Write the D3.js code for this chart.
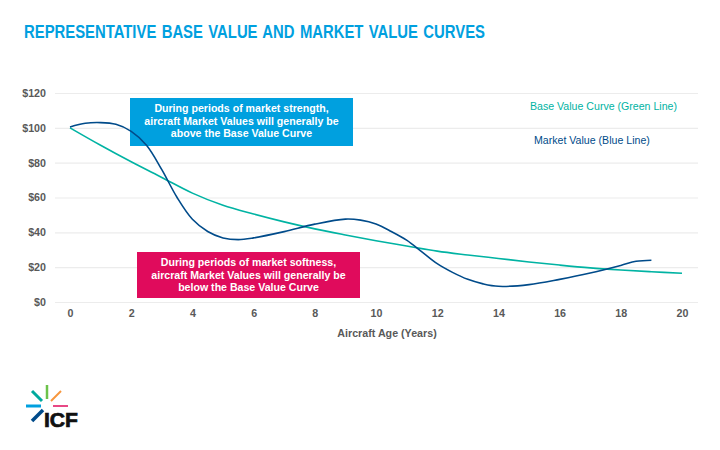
<!DOCTYPE html>
<html>
<head>
<meta charset="utf-8">
<script src="https://cdn.jsdelivr.net/npm/d3@7"></script>
<style>
    html, body { margin: 0; padding: 0; background: #fff; }
    svg { display: block; font-family: "Liberation Sans", Arial, sans-serif; }
</style>
</head>
<body>
<svg id="chart" width="720" height="450"></svg>
<script>
const baseAges = [0, 1, 2, 3, 4, 5, 6, 7, 8, 9, 10, 11, 12, 13, 14, 15, 16, 17, 18, 19, 20];
const baseValues = [100, 90, 80.5, 71.5, 62.5, 55.5, 50.5, 46, 42, 38.5, 35.2, 32.2, 29.2, 27, 25, 23, 21.2, 19.6, 18.4, 17.4, 16.5];

const marketAges = [0, 0.5, 1, 1.5, 2, 2.5, 3, 3.5, 4, 4.5, 5, 5.5, 6, 7, 8, 9, 9.5, 10, 10.5, 11, 11.5, 12, 12.5, 13, 13.5, 14, 15, 16, 17, 18, 18.5, 19];
const marketValues = [100.5, 102.6, 103, 102, 98, 90, 76, 60, 47.5, 40.5, 36.8, 35.8, 36.8, 40.4, 44.7, 47.6, 47, 44.8, 40.5, 35.5, 28.8, 22, 17, 13, 10.4, 9, 10, 13, 16.6, 21, 23.4, 24];

const xTicks = [0, 2, 4, 6, 8, 10, 12, 14, 16, 18, 20];
const yTicks = [0, 20, 40, 60, 80, 100, 120];

const titleText = 'REPRESENTATIVE BASE VALUE AND MARKET VALUE CURVES';
const xLabel = 'Aircraft Age (Years)';
const strengthLines = ['During periods of market strength,', 'aircraft Market Values will generally be', 'above the Base Value Curve'];
const softnessLines = ['During periods of market softness,', 'aircraft Market Values will generally be', 'below the Base Value Curve'];

const teal = '#00b3a3';
const navy = '#004b8a';
const grey = '#595959';

const svg = d3.select('#chart');

const x = d3.scaleLinear().domain([0, 20]).range([70, 682]);
const y = d3.scaleLinear().domain([0, 120]).range([302, 93]);

// TITLE

svg.append('text')
    .attr('x', 24)
    .attr('y', 38)
    .attr('textLength', 461)
    .attr('lengthAdjust', 'spacingAndGlyphs')
    .style('font-family', '"Liberation Sans Narrow", "Liberation Sans", sans-serif')
    .style('font-size', '18px')
    .style('font-weight', 700)
    .style('word-spacing', '1.5px')
    .style('fill', '#00a0df')
    .text(titleText);

// AXES

const yAxis = d3.axisLeft(y)
    .tickValues(yTicks)
    .tickSize(-643)
    .tickFormat(d => `$${d}`);

svg.append('g')
    .attr('transform', 'translate(55,0)')
    .call(yAxis)
    .call(g => g.select('.domain').remove())
    .call(g => g.selectAll('line').attr('stroke', '#ececec').attr('stroke-width', 1.2))
    .call(g => g.selectAll('text')
        .attr('x', -9)
        .style('font-size', '10.7px')
        .style('font-weight', 700)
        .style('fill', grey));

const xAxis = d3.axisBottom(x)
    .tickValues(xTicks)
    .tickSize(0)
    .tickPadding(0);

svg.append('g')
    .attr('transform', 'translate(0,309)')
    .call(xAxis)
    .call(g => g.select('.domain').remove())
    .call(g => g.selectAll('text')
        .style('font-size', '10.7px')
        .style('font-weight', 700)
        .style('fill', grey));

svg.append('text')
    .attr('x', 387)
    .attr('y', 337)
    .attr('text-anchor', 'middle')
    .style('font-size', '10.7px')
    .style('font-weight', 700)
    .style('fill', grey)
    .text(xLabel);

// CALLOUTS

function callout (left, top, width, height, fill, lines, firstBaseline) {
    const g = svg.append('g');
    g.append('rect')
        .attr('x', left)
        .attr('y', top)
        .attr('width', width)
        .attr('height', height)
        .attr('fill', fill);
    g.selectAll('text')
        .data(lines)
        .enter()
        .append('text')
        .attr('x', left + width / 2)
        .attr('y', (d, i) => firstBaseline + i * 12.6)
        .attr('text-anchor', 'middle')
        .style('font-size', '10.6px')
        .style('font-weight', 700)
        .style('fill', '#fff')
        .text(d => d);
}

callout(130, 98, 223, 48, '#00a0df', strengthLines, 112);
callout(137, 252, 223, 46, '#e00b5c', softnessLines, 266);

// LINES

const line = d3.line()
    .x(d => x(d[0]))
    .y(d => y(d[1]))
    .curve(d3.curveCatmullRom);

svg.append('path')
    .datum(d3.zip(baseAges, baseValues))
    .attr('d', line)
    .attr('fill', 'none')
    .attr('stroke', teal)
    .attr('stroke-width', 1.6);

svg.append('path')
    .datum(d3.zip(marketAges, marketValues))
    .attr('d', line)
    .attr('fill', 'none')
    .attr('stroke', navy)
    .attr('stroke-width', 1.6);

// LINE LABELS

svg.append('text')
    .attr('x', 530)
    .attr('y', 110)
    .style('font-size', '10.6px')
    .style('fill', teal)
    .text('Base Value Curve (Green Line)');

svg.append('text')
    .attr('x', 534)
    .attr('y', 144)
    .style('font-size', '10.6px')
    .style('fill', navy)
    .text('Market Value (Blue Line)');

// LOGO

const rays = [
    {color: '#6cc24a', from: [47, 385], to: [47, 399], width: 2.5},
    {color: '#00a99d', from: [32, 391], to: [42, 401], width: 3},
    {color: '#f7963d', from: [61, 391], to: [51, 401], width: 2},
    {color: '#00a0df', from: [26, 406], to: [41, 406], width: 3},
    {color: '#e00b5c', from: [53, 406], to: [68, 406], width: 1.5},
    {color: '#004b8a', from: [43, 410], to: [32, 421], width: 3.5}
];

svg.append('g')
    .selectAll('line')
    .data(rays)
    .enter()
    .append('line')
    .attr('x1', d => d.from[0])
    .attr('y1', d => d.from[1])
    .attr('x2', d => d.to[0])
    .attr('y2', d => d.to[1])
    .attr('stroke', d => d.color)
    .attr('stroke-width', d => d.width);

svg.append('text')
    .attr('x', 44)
    .attr('y', 427)
    .attr('textLength', 34)
    .attr('lengthAdjust', 'spacingAndGlyphs')
    .style('font-size', '20px')
    .style('font-weight', 700)
    .style('fill', '#111')
    .style('stroke', '#111')
    .style('stroke-width', 0.7)
    .text('ICF');
</script>
</body>
</html>
